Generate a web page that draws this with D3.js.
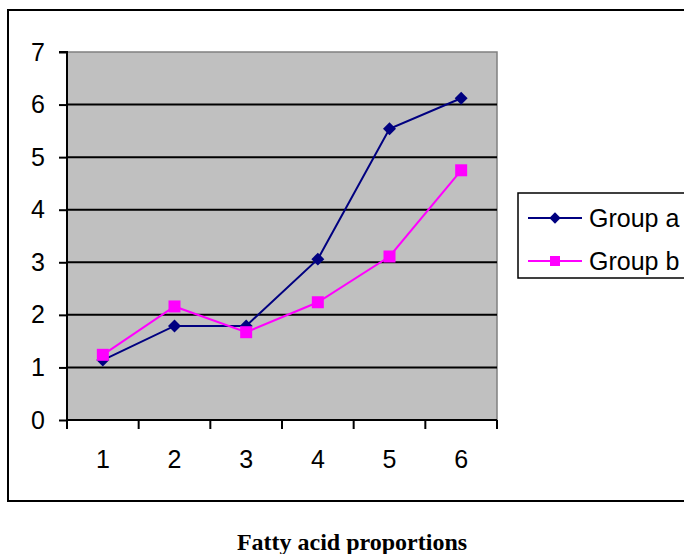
<!DOCTYPE html>
<html><head><meta charset="utf-8">
<script src="https://cdn.jsdelivr.net/npm/d3@7"></script>
<style>body{margin:0;background:#fff}svg{display:block}</style>
</head><body>
<svg id="c" width="684" height="554"></svg>
<script>
const categories = ["1","2","3","4","5","6"];
const groupA = [1.14, 1.79, 1.79, 3.06, 5.54, 6.12];
const groupB = [1.24, 2.16, 1.67, 2.24, 3.11, 4.75];
const seriesNames = ["Group a", "Group b"];
const seriesColors = ["#000080", "#FF00FF"];
const yTicks = [0,1,2,3,4,5,6,7];
const title = "Fatty acid proportions";

const svg = d3.select("#c");
const L = 67, R = 497, T = 52, B = 420;
const x = d3.scaleBand().domain(categories).range([L, R]).padding(0);
const y = d3.scaleLinear().domain([0, 7]).range([B, T]);

// outer chart border
svg.append("rect").attr("x", 8).attr("y", 10).attr("width", 700).attr("height", 491)
  .attr("fill", "none").attr("stroke", "#000").attr("stroke-width", 2);

// plot area
svg.append("rect").attr("x", L).attr("y", T).attr("width", R - L).attr("height", B - T)
  .attr("fill", "#C0C0C0").attr("stroke", "#808080").attr("stroke-width", 1.5);

// gridlines
svg.append("g").selectAll("line").data(yTicks.filter(d => d > 0 && d < 7)).join("line")
  .attr("x1", L).attr("x2", R).attr("y1", d => y(d)).attr("y2", d => y(d))
  .attr("stroke", "#000").attr("stroke-width", 2);

// y axis
const yAxis = svg.append("g").attr("transform", `translate(${L},0)`)
  .call(d3.axisLeft(y).tickValues(yTicks).tickSize(8).tickPadding(14).tickFormat(d3.format("d")));
yAxis.select(".domain").attr("stroke-width", 2).attr("d", `M-8,${T}H0V${B}`);
yAxis.selectAll(".tick line").attr("stroke-width", 2);
yAxis.selectAll("text").attr("font-family", "Liberation Sans, Arial, sans-serif").attr("font-size", 25).attr("fill", "#000");

// x axis with ticks at band boundaries
const xAxisG = svg.append("g").attr("transform", `translate(0,${B})`);
xAxisG.append("line").attr("x1", L).attr("x2", R).attr("stroke", "#000").attr("stroke-width", 2);
const bounds = categories.map(c => x(c)).concat([R]);
xAxisG.selectAll("line.t").data(bounds).join("line").attr("class", "t")
  .attr("x1", d => d).attr("x2", d => d).attr("y1", 0).attr("y2", 9)
  .attr("stroke", "#000").attr("stroke-width", 2);
xAxisG.selectAll("text").data(categories).join("text")
  .attr("x", d => x(d) + x.bandwidth() / 2).attr("y", 39).attr("dy", "0.35em")
  .attr("text-anchor", "middle")
  .attr("font-family", "Liberation Sans, Arial, sans-serif").attr("font-size", 25)
  .text(d => d);

// series
const series = [groupA, groupB];
const line = d3.line().x((d, i) => x(categories[i]) + x.bandwidth() / 2).y(d => y(d));
series.forEach((vals, si) => {
  svg.append("path").datum(vals).attr("d", line)
    .attr("fill", "none").attr("stroke", seriesColors[si]).attr("stroke-width", 2);
});
series.forEach((vals, si) => {
  svg.append("g").selectAll("path").data(vals).join("path")
    .attr("d", si === 0 ? d3.symbol().type(d3.symbolSquare).size(84)() : d3.symbol().type(d3.symbolSquare).size(144)())
    .attr("fill", seriesColors[si])
    .attr("transform", (d, i) => `translate(${x(categories[i]) + x.bandwidth() / 2},${y(d)})` + (si === 0 ? " rotate(45)" : ""));
});

// legend
const lg = svg.append("g");
lg.append("rect").attr("x", 518).attr("y", 193).attr("width", 200).attr("height", 85)
  .attr("fill", "#fff").attr("stroke", "#000").attr("stroke-width", 1.5);
const rowsY = [218, 261];
seriesNames.forEach((n, i) => {
  lg.append("line").attr("x1", 528).attr("x2", 582).attr("y1", rowsY[i]).attr("y2", rowsY[i])
    .attr("stroke", seriesColors[i]).attr("stroke-width", 2);
  lg.append("path")
    .attr("d", i === 0 ? d3.symbol().type(d3.symbolSquare).size(64)() : d3.symbol().type(d3.symbolSquare).size(100)())
    .attr("transform", `translate(555,${rowsY[i]})` + (i === 0 ? " rotate(45)" : ""))
    .attr("fill", seriesColors[i]);
  lg.append("text").attr("x", 589).attr("y", rowsY[i]).attr("dy", "0.35em")
    .attr("font-family", "Liberation Sans, Arial, sans-serif").attr("font-size", 25)
    .text(n);
});

// title
svg.append("text").attr("x", 352).attr("y", 550).attr("text-anchor", "middle")
  .attr("font-family", "Liberation Serif, Times New Roman, serif").attr("font-weight", "bold")
  .attr("font-size", 24).text(title);
</script>
</body></html>
